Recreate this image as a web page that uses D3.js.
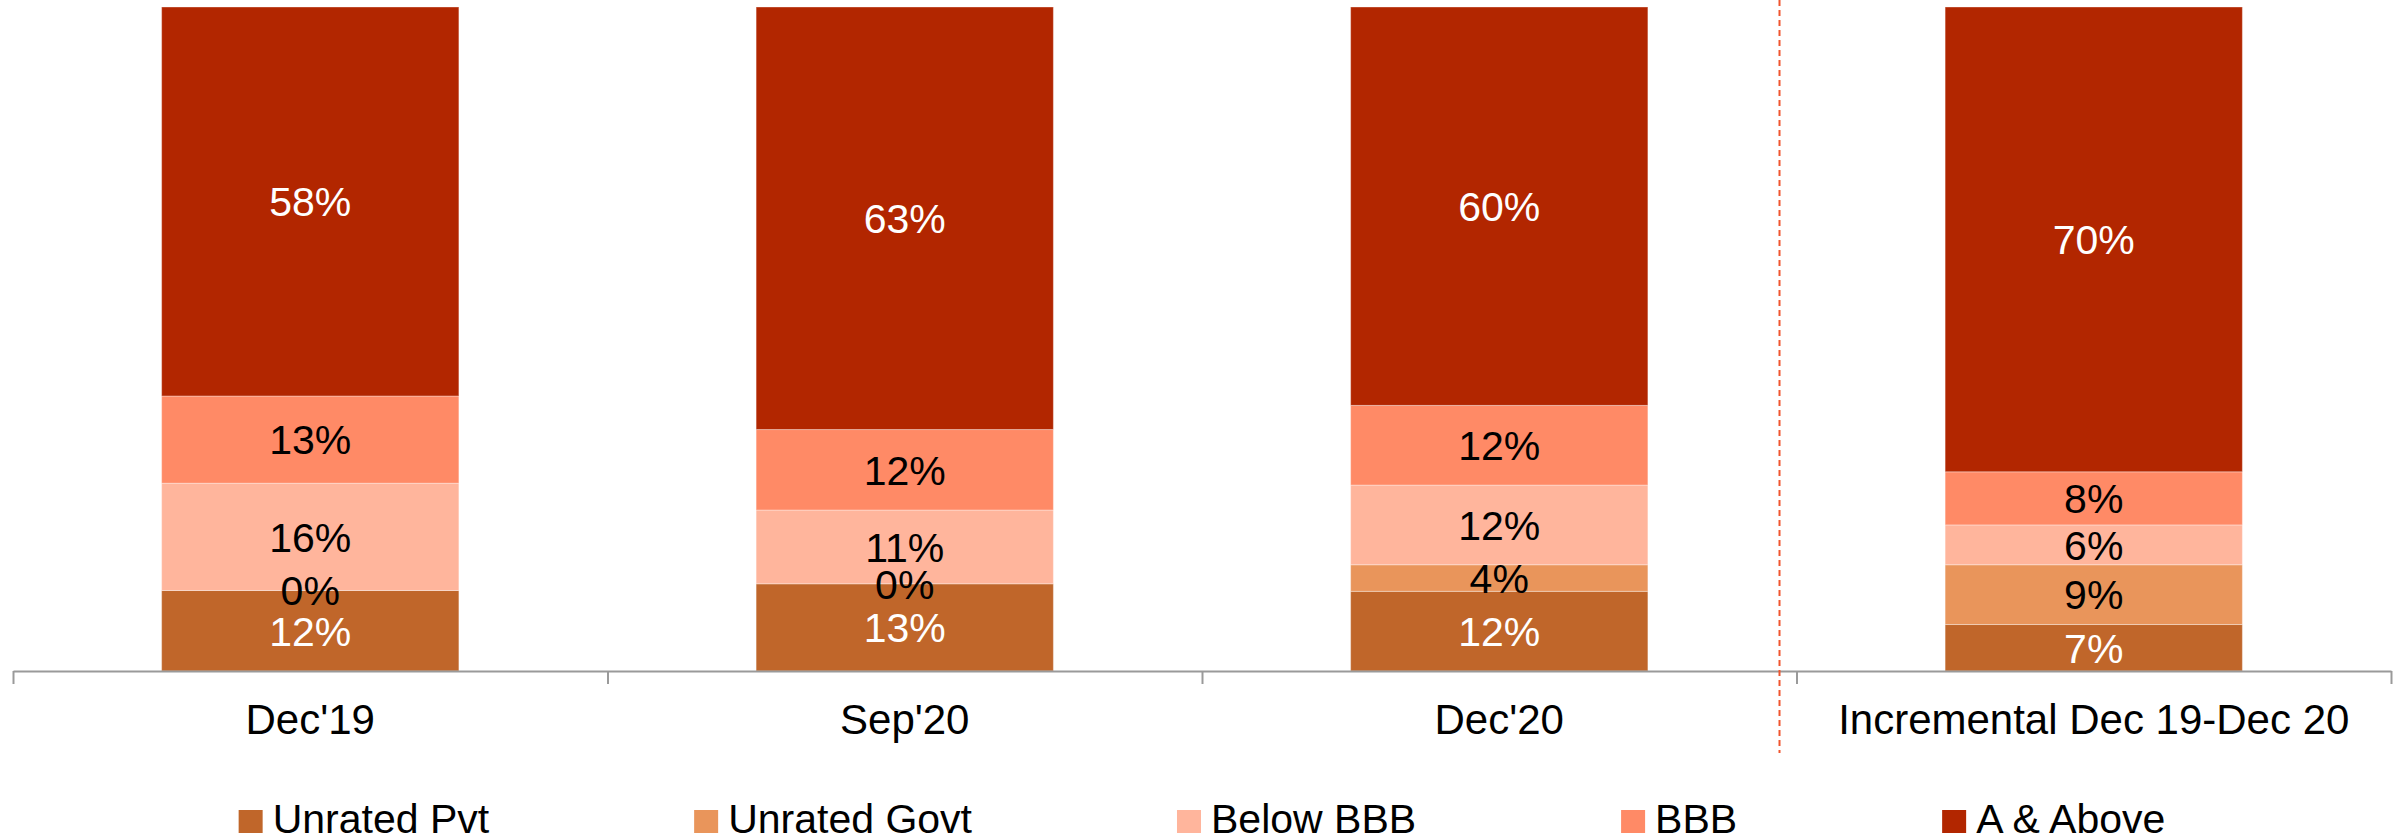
<!DOCTYPE html>
<html>
<head>
<meta charset="utf-8">
<script src="https://cdn.jsdelivr.net/npm/d3@7"></script>
<style>
  html, body { margin: 0; padding: 0; background: #fff; }
  svg { display: block; }
  text { font-family: "Liberation Sans", Arial, sans-serif; }
</style>
</head>
<body>
<svg id="chart" width="2408" height="840"></svg>
<script>
// Rating mix of the portfolio, % of book per period
const categories = ["Dec'19", "Sep'20", "Dec'20", "Incremental Dec 19-Dec 20"];
const seriesNames = ["Unrated Pvt", "Unrated Govt", "Below BBB", "BBB", "A & Above"];
const unratedPvt  = [12, 13, 12, 7];
const unratedGovt = [0, 0, 4, 9];
const belowBBB    = [16, 11, 12, 6];
const bbb         = [13, 12, 12, 8];
const aAndAbove   = [58, 63, 60, 70];

const seriesColors = ["#C0662A", "#E9955B", "#FFB59C", "#FF8A66", "#B22600"];
const labelColors  = ["#ffffff", "#000000", "#000000", "#000000", "#ffffff"];

const seriesValues = [unratedPvt, unratedGovt, belowBBB, bbb, aAndAbove];
const rows = categories.map((c, i) => {
  const r = { category: c };
  seriesNames.forEach((s, k) => { r[s] = seriesValues[k][i]; });
  return r;
});

const svg = d3.select("#chart");
const margin = { left: 13, right: 17, top: 7, bottom: 169 };
const W = 2408, H = 840;
const axisY = H - margin.bottom;

const x = d3.scaleBand().domain(categories).range([margin.left, W - margin.right]).padding(0);
const y = d3.scaleLinear().domain([0, 1]).range([axisY, margin.top]);

// 100% stacked: each column is normalised to its own total
const stack = d3.stack().keys(seriesNames).offset(d3.stackOffsetExpand);
const layers = stack(rows);

const barW = x.bandwidth() / 2;
const barX = d => x(d.data.category) + (x.bandwidth() - barW) / 2;

const g = svg.append("g");
layers.forEach((layer, k) => {
  g.selectAll(null).data(layer).enter().append("rect")
    .attr("x", barX)
    .attr("width", barW)
    .attr("y", d => y(d[1]))
    .attr("height", d => Math.max(0, y(d[0]) - y(d[1])))
    .attr("fill", seriesColors[k])
    .attr("stroke", "rgba(255,255,255,0.35)")
    .attr("stroke-width", 1);
});

// value labels centred in each segment
layers.forEach((layer, k) => {
  g.selectAll(null).data(layer).enter().append("text")
    .attr("x", d => barX(d) + barW / 2)
    .attr("y", d => (y(d[0]) + y(d[1])) / 2)
    .attr("dy", "0.36em")
    .attr("text-anchor", "middle")
    .attr("font-size", 41)
    .attr("fill", labelColors[k])
    .text(d => d.data[layer.key] + "%");
});

// category axis with ticks at the column boundaries
const xEdge = d3.scaleLinear().domain([0, categories.length]).range(x.range());
const axis = svg.append("g")
  .attr("transform", `translate(0,${axisY})`)
  .call(d3.axisBottom(xEdge).tickValues(d3.range(categories.length + 1))
    .tickSize(13).tickSizeOuter(0).tickFormat(""));
axis.select(".domain").attr("stroke", "#9a9a9a").attr("stroke-width", 2);
axis.selectAll(".tick line").attr("stroke", "#9a9a9a").attr("stroke-width", 2);

svg.append("g").selectAll("text").data(categories).enter().append("text")
  .attr("x", d => x(d) + x.bandwidth() / 2)
  .attr("y", axisY + 63)
  .attr("text-anchor", "middle")
  .attr("font-size", 42)
  .attr("fill", "#000")
  .text(d => d);

// divider separating the incremental column
const dividerX = xEdge(3) - 17;
svg.append("line")
  .attr("x1", dividerX).attr("x2", dividerX)
  .attr("y1", 0).attr("y2", axisY + 82)
  .attr("stroke", "#F0552E")
  .attr("stroke-width", 2)
  .attr("stroke-dasharray", "6,4");

// legend, centred under the axis
const legend = svg.append("g");
const swatch = 24, swatchGap = 10, itemGap = 205, legendBase = 833;
let cursor = 0;
const items = seriesNames.map((name, k) => {
  const item = legend.append("g");
  item.append("rect")
    .attr("x", 0).attr("y", legendBase - 23)
    .attr("width", swatch).attr("height", 23)
    .attr("fill", seriesColors[k]);
  const t = item.append("text")
    .attr("x", swatch + swatchGap).attr("y", legendBase)
    .attr("font-size", 41)
    .attr("fill", "#000")
    .text(name);
  const w = swatch + swatchGap + t.node().getComputedTextLength();
  item.attr("transform", `translate(${cursor},0)`);
  cursor += w + itemGap;
  return item;
});
const legendWidth = cursor - itemGap;
const mid = (x.range()[0] + x.range()[1]) / 2;
legend.attr("transform", `translate(${mid - legendWidth / 2},0)`);
</script>
</body>
</html>
